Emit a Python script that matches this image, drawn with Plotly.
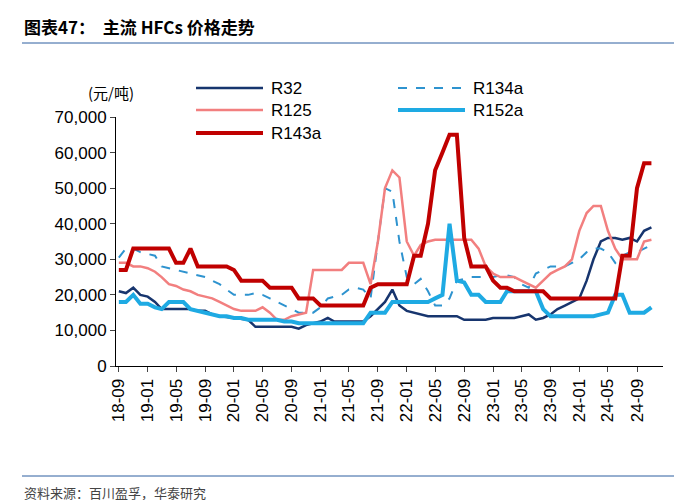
import pandas as pd
import plotly.graph_objects as go

months = pd.date_range("2018-09-01", periods=75, freq="MS")

r32 = [21000, 20500, 22000, 20000, 19500, 18000, 16000, 16000, 16000, 16000, 16000, 15500, 15500, 14500, 14000,
       13800, 13500, 13200, 13000, 11000, 11000, 11000, 11000, 11000, 11000, 10500, 11500, 12000, 12500, 13500,
       12500, 12500, 12500, 12500, 12500, 14000, 16000, 18000, 21500, 17000, 15500, 15000, 14500, 14000, 14000,
       14000, 14000, 14000, 13000, 13000, 13000, 13000, 13500, 13500, 13500, 13500, 14000, 14500, 13000, 13500,
       14500, 16000, 17000, 18000, 19000, 24000, 30000, 35000, 36000, 36000, 35500, 36000, 35000, 38000, 39000]
r134a = [30500, 33000, 33000, 32000, 31500, 31000, 28000, 27500, 27000, 26500, 26000, 25500, 25000, 24000, 23000,
         21500, 20000, 20000, 20000, 20500, 20000, 19000, 18000, 17000, 16000, 15000, 15000, 15000, 16500, 19000,
         19500, 20000, 21500, 22000, 21500, 19000, 35000, 50000, 49000, 35000, 25000, 23000, 24500, 21000, 17000,
         17000, 19000, 24000, 24500, 25000, 25000, 25000, 25000, 25500, 25500, 25000, 23000, 22000, 26000, 27000,
         28000, 28000, 28000, 29000, 30000, 32000, 33000, 33000, 32000, 29000, 31000, 32000, 32000, 33000, 34000]
r125 = [29000, 29000, 28000, 28000, 27500, 26500, 25000, 23000, 22500, 21500, 21000, 20000, 19500, 19000, 18000,
        17000, 16000, 15500, 15500, 15500, 16500, 15000, 13000, 13000, 14000, 14500, 15000, 27000, 27000, 27000,
        27000, 27000, 29000, 29000, 29000, 23000, 35000, 50000, 55000, 53000, 35000, 31000, 34000, 35000, 35500,
        35500, 35500, 35500, 35500, 35500, 33000, 28000, 26000, 25000, 25000, 25000, 24000, 23000, 22000, 24000,
        26000, 27000, 28000, 30000, 38000, 43000, 45000, 45000, 38000, 33000, 30000, 30000, 30000, 35000, 35500]
r152a = [18000, 18000, 20000, 17500, 17500, 16500, 16000, 18000, 18000, 18000, 16000, 15500, 15000, 14500, 14000,
         14000, 13500, 13500, 13000, 13000, 13000, 13000, 13000, 12500, 12500, 12000, 12000, 12000, 12000, 12000,
         12000, 12000, 12000, 12000, 12000, 15000, 15000, 15000, 18000, 18000, 18000, 18000, 18000, 18000, 19000,
         20000, 40000, 24000, 23500, 20000, 20000, 18000, 18000, 18000, 21000, 21000, 21000, 21000, 21000, 16000,
         14000, 14000, 14000, 14000, 14000, 14000, 14000, 14500, 15000, 20000, 20000, 15000, 15000, 15000, 16500]
r143a = [27000, 27000, 33000, 33000, 33000, 33000, 33000, 33000, 29000, 29000, 33000, 28000, 28000, 28000, 28000,
         28000, 27000, 24000, 24000, 24000, 24000, 22000, 22000, 22000, 22000, 19000, 19000, 19000, 17000, 17000,
         17000, 17000, 17000, 17000, 17000, 22000, 23000, 23000, 23000, 23000, 23000, 31000, 31000, 40000, 55000,
         60000, 65000, 65000, 36000, 28000, 28000, 28000, 24000, 22000, 22000, 21000, 21000, 21000, 21000, 21000,
         19000, 19000, 19000, 19000, 19000, 19000, 19000, 19000, 19000, 19000, 31000, 31000, 50000, 57000, 57000]

series = [
    ("R32", r32, "#17356e", 2.5, "solid"),
    ("R134a", r134a, "#2e93cf", 2, "dash"),
    ("R125", r125, "#f27f7f", 2.5, "solid"),
    ("R152a", r152a, "#1eaae3", 4, "solid"),
    ("R143a", r143a, "#c00000", 4, "solid"),
]

fig = go.Figure()
for name, vals, color, width, dash in series:
    fig.add_trace(go.Scatter(x=months, y=vals, mode="lines", name=name,
                             line=dict(color=color, width=width, dash=dash)))

# hand-drawn legend in two columns (paper coords: plot is 547 x 249 px)
W, H = 547.0, 249.0
legend_pos = [(188, 80), (390, 80), (188, 102), (390, 102), (188, 125)]
for (name, _, color, width, dash), (px, py) in zip(series, legend_pos):
    x0 = (px - 108) / W
    x1 = (px + 67 - 108) / W
    y = (358 - py) / H
    fig.add_shape(type="line", xref="paper", yref="paper", x0=x0, x1=x1, y0=y, y1=y,
                  line=dict(color=color, width=width, dash=dash))
    fig.add_annotation(text=name, xref="paper", yref="paper", x=(px + 73 - 108) / W, y=y,
                       xanchor="left", yanchor="middle", showarrow=False, font=dict(size=17))

font = "Liberation Sans, Arial, sans-serif"
fig.update_layout(
    width=689, height=500,
    margin=dict(l=108, r=34, t=109, b=142, autoexpand=False),
    paper_bgcolor="white", plot_bgcolor="white",
    font=dict(family=font, size=17, color="black"),
    showlegend=False,
    xaxis=dict(tickformat="%y-%m", dtick="M4", tick0="2018-09-01", tickangle=-90,
               range=["2018-08-20", "2024-12-20"], showgrid=False,
               showline=True, linecolor="black", ticks="outside", ticklen=5),
    yaxis=dict(range=[0, 70000], dtick=10000, tickformat=",", showgrid=False,
               showline=True, linecolor="black", ticks="outside", ticklen=5),
)

fig.add_annotation(text="(元/吨)", xref="paper", yref="paper", x=-0.01, y=(358 - 85) / H,
                   xanchor="center", yanchor="middle", showarrow=False,
                   font=dict(size=15, family="Noto Sans CJK SC"))
fig.add_annotation(text="<b>图表47：  主流 HFCs 价格走势</b>", xref="paper", yref="paper",
                   x=(14 - 108) / W, y=(358 - 19) / H, xanchor="left", yanchor="middle",
                   showarrow=False, font=dict(size=17, family="Noto Sans CJK SC"))
fig.add_annotation(text="资料来源：百川盈孚，华泰研究", xref="paper", yref="paper",
                   x=(14 - 108) / W, y=(358 - 484) / H, xanchor="left", yanchor="middle",
                   showarrow=False, font=dict(size=13, family="Noto Sans CJK SC", color="#444"))
fig.add_shape(type="line", xref="paper", yref="paper", x0=(14 - 108) / W, x1=(666 - 108) / W,
              y0=(358 - 35) / H, y1=(358 - 35) / H, line=dict(color="#2d5fa0", width=1))
fig.add_shape(type="line", xref="paper", yref="paper", x0=(14 - 108) / W, x1=(666 - 108) / W,
              y0=(358 - 468) / H, y1=(358 - 468) / H, line=dict(color="#2d5fa0", width=1))

fig.write_html("out.html")
